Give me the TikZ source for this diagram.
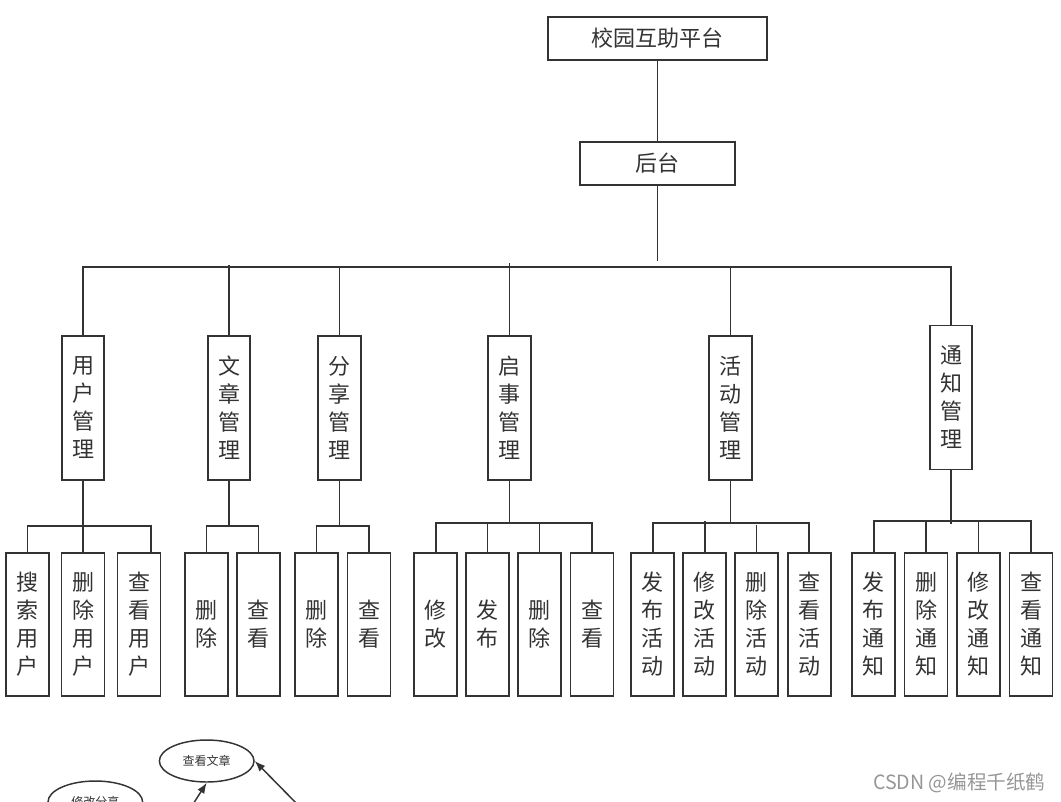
\documentclass[tikz,border=0pt]{standalone}
\usepackage{fontspec}
\newfontfamily\cjk{Noto Sans CJK SC}
\usetikzlibrary{shapes.geometric,arrows.meta}
\definecolor{ink}{RGB}{51,51,51}
\definecolor{wm}{RGB}{150,150,150}
\begin{document}
\begin{tikzpicture}[x=0.75pt,y=-0.75pt,
  box/.style={draw=ink, line width=1.4pt, text=ink, inner sep=0pt, align=center, font=\cjk\fontsize{16.5}{21}\selectfont},
  topbox/.style={box, minimum width=164.25pt, minimum height=32.25pt},
  midbox/.style={box, minimum width=116.25pt, minimum height=32.25pt},
  vbox/.style={box, minimum width=31.9pt, minimum height=108pt},
  leaf/.style={box, minimum width=32.25pt, minimum height=107.25pt},
  link/.style={draw=ink, line width=1.4pt},
  oval/.style={ellipse, draw=ink, line width=1.1pt, text=ink, minimum width=71pt, minimum height=31.5pt, inner sep=0pt, font=\cjk\fontsize{9}{11}\selectfont},
  arr/.style={draw=ink, line width=1.1pt, -{Latex[length=8pt,width=6pt]}},
  wmark/.style={text=wm, inner sep=0pt, font=\cjk\fontsize{14.7}{17}\selectfont}
]
\useasboundingbox (0,0) rectangle (1061,801);
\clip (0,0) rectangle (1061,801);

% top levels
\node[topbox] (root) at (657.5,38.5) {校园互助平台};
\node[midbox] (hou) at (657.5,163.5) {后台};

% second level
\node[vbox] (yh) at (83,408) {用\\户\\管\\理};
\node[vbox] (wz) at (229,408) {文\\章\\管\\理};
\node[vbox] (fx) at (339.5,408) {分\\享\\管\\理};
\node[vbox] (qs) at (509.5,408) {启\\事\\管\\理};
\node[vbox] (hd) at (730.5,408) {活\\动\\管\\理};
\node[vbox] (tz) at (951,397.5) {通\\知\\管\\理};

% leaves
\node[leaf] (yh1) at (27.5,624.5) {搜\\索\\用\\户};
\node[leaf] (yh2) at (83,624.5) {删\\除\\用\\户};
\node[leaf] (yh3) at (139,624.5) {查\\看\\用\\户};
\node[leaf] (wz1) at (206.5,624.5) {删\\除};
\node[leaf] (wz2) at (258.5,624.5) {查\\看};
\node[leaf] (fx1) at (316.5,624.5) {删\\除};
\node[leaf] (fx2) at (369,624.5) {查\\看};
\node[leaf] (qs1) at (435.6,624.5) {修\\改};
\node[leaf] (qs2) at (487.5,624.5) {发\\布};
\node[leaf] (qs3) at (539.5,624.5) {删\\除};
\node[leaf] (qs4) at (592,624.5) {查\\看};
\node[leaf] (hd1) at (652.7,624.5) {发\\布\\活\\动};
\node[leaf] (hd2) at (704.6,624.5) {修\\改\\活\\动};
\node[leaf] (hd3) at (756.5,624.5) {删\\除\\活\\动};
\node[leaf] (hd4) at (809.3,624.5) {查\\看\\活\\动};
\node[leaf] (tz1) at (873.8,624.5) {发\\布\\通\\知};
\node[leaf] (tz2) at (926,624.5) {删\\除\\通\\知};
\node[leaf] (tz3) at (978.5,624.5) {修\\改\\通\\知};
\node[leaf] (tz4) at (1031,624.5) {查\\看\\通\\知};

% top connectors
\draw[link] (root.south) -- (hou.north);
\draw[link] (hou.south) -- (hou.south |- 0,261);
\draw[link] (yh.north) |- (tz.north |- 0,267) -- (tz.north);
\draw[link] (wz.north) -- (wz.north |- 0,265);
\draw[link] (fx.north) -- (fx.north |- 0,267);
\draw[link] (qs.north) -- (qs.north |- 0,263);
\draw[link] (hd.north) -- (hd.north |- 0,267);

% user management
\draw[link] (yh.south) -- (yh.south |- 0,526);
\draw[link] (yh1.north) |- (151,526) -- (151,553);
\draw[link] (yh2.north) -- (yh2.north |- 0,526);

% article management
\draw[link] (wz.south) -- (wz.south |- 0,526);
\draw[link] (wz1.north) |- (wz2.north |- 0,526) -- (wz2.north);

% share management
\draw[link] (fx.south) -- (fx.south |- 0,526);
\draw[link] (fx1.north) |- (fx2.north |- 0,526) -- (fx2.north);

% notice management
\draw[link] (qs.south) -- (qs.south |- 0,524.3);
\draw[link] (qs1.north) |- (qs4.north |- 0,522.7) -- (qs4.north);
\draw[link] (qs2.north) -- (qs2.north |- 0,522.7);
\draw[link] (qs3.north) -- (qs3.north |- 0,522.7);

% activity management
\draw[link] (hd.south) -- (hd.south |- 0,524);
\draw[link] (hd1.north) |- (hd4.north |- 0,523) -- (hd4.north);
\draw[link] (hd2.north) -- (hd2.north |- 0,521);
\draw[link] (hd3.north) -- (hd3.north |- 0,525);

% notification management
\draw[link] (tz.south) -- (tz.south |- 0,524);
\draw[link] (tz1.north) |- (tz4.north |- 0,521) -- (tz4.north);
\draw[link] (tz2.north) -- (tz2.north |- 0,521);
\draw[link] (tz3.north) -- (tz3.north |- 0,521);

% bottom fragment
\node[oval] (ck) at (206.7,761) {查看文章};
\node[oval] (xg) at (95.3,802) {修改分享};
\coordinate (a1) at (189.3,810);
\coordinate (a2) at (302,809);
\draw[arr] (a1) -- (ck.south);
\draw[arr] (a2) -- (ck.east);

% watermark
\node[wmark, anchor=west] (wm) at (873,782.5) {CSDN @编程千纸鹤};
\end{tikzpicture}
\end{document}
